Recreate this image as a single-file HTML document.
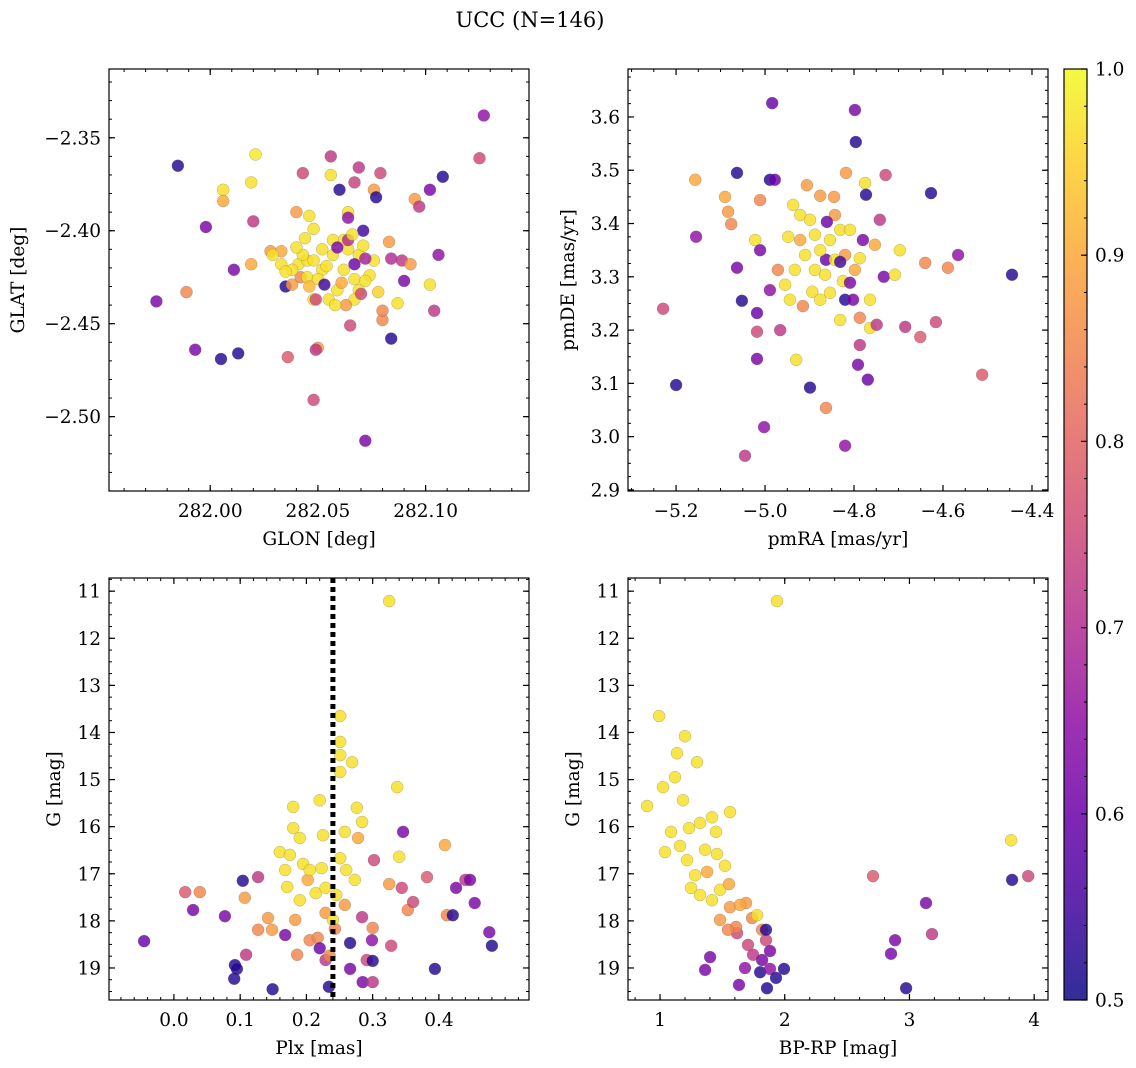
<!DOCTYPE html>
<html><head><meta charset="utf-8">
<style>
html,body{margin:0;padding:0;background:#fff;}
svg{display:block;font-family:"DejaVu Serif","Liberation Serif",serif;}
</style></head>
<body>
<svg id="fig" width="1136" height="1068" viewBox="0 0 1136 1068">
<text x="530" y="27" font-size="21" text-anchor="middle">UCC (N=146)</text>
</svg>
<script>
// ---- Panel 1: GLON / GLAT ----
const glon = [281.985,281.975,281.998,281.993,281.989,282.006,282.006,282.005,282.013,282.011,282.019,282.019,282.021,282.020,282.028,282.033,282.035,282.038,282.036,282.040,282.041,282.042,282.043,282.045,282.048,282.050,282.049,282.048,282.046,282.056,282.060,282.064,282.064,282.056,282.065,282.069,282.067,282.076,282.077,282.079,282.072,282.084,282.080,282.080,282.087,282.089,282.090,282.093,282.095,282.097,282.102,282.108,282.102,282.104,282.106,282.125,282.127,282.084,282.083,282.029,282.033,282.038,282.043,282.048,282.052,282.057,282.062,282.067,282.069,282.059,282.055,282.045,282.050,282.064,282.069,282.076,282.074,282.062,282.067,282.071,282.057,282.052,282.048,282.059,282.064,282.067,282.072,282.053,282.049,282.070,282.063,282.071,282.035,282.040,282.046,282.054,282.061,282.066,282.072,282.078,282.044,282.058];
const glat = [-2.365,-2.438,-2.398,-2.464,-2.433,-2.378,-2.384,-2.469,-2.466,-2.421,-2.418,-2.374,-2.359,-2.395,-2.411,-2.411,-2.430,-2.429,-2.468,-2.390,-2.418,-2.425,-2.369,-2.416,-2.399,-2.463,-2.464,-2.491,-2.392,-2.360,-2.378,-2.390,-2.393,-2.370,-2.451,-2.366,-2.374,-2.378,-2.382,-2.369,-2.513,-2.458,-2.448,-2.443,-2.439,-2.416,-2.427,-2.418,-2.383,-2.387,-2.378,-2.371,-2.429,-2.443,-2.413,-2.361,-2.338,-2.415,-2.406,-2.413,-2.418,-2.421,-2.413,-2.416,-2.421,-2.413,-2.421,-2.426,-2.432,-2.432,-2.437,-2.425,-2.426,-2.410,-2.413,-2.416,-2.424,-2.405,-2.437,-2.408,-2.405,-2.410,-2.437,-2.409,-2.405,-2.418,-2.415,-2.429,-2.437,-2.434,-2.440,-2.400,-2.422,-2.409,-2.430,-2.419,-2.428,-2.402,-2.427,-2.433,-2.404,-2.440];
const prob1 = [0.52,0.62,0.62,0.62,0.85,0.97,0.9,0.52,0.52,0.62,0.9,0.97,0.98,0.72,0.88,0.9,0.52,0.88,0.78,0.88,0.97,0.85,0.75,0.97,0.97,0.88,0.72,0.75,0.97,0.72,0.52,0.97,0.65,0.97,0.75,0.72,0.74,0.88,0.52,0.75,0.62,0.52,0.85,0.85,0.97,0.72,0.62,0.88,0.88,0.72,0.62,0.52,0.97,0.72,0.65,0.75,0.65,0.7,0.88,0.97,0.97,0.97,0.97,0.97,0.97,0.97,0.97,0.97,0.97,0.97,0.97,0.97,0.97,0.97,0.97,0.97,0.97,0.97,0.97,0.97,0.97,0.97,0.97,0.62,0.7,0.6,0.68,0.55,0.75,0.75,0.88,0.55,0.97,0.97,0.92,0.97,0.9,0.97,0.97,0.95,0.97,0.97];

// ---- Panel 2: pmRA / pmDE ----
const pmra = [-5.200,-5.229,-5.157,-5.155,-5.090,-5.083,-5.076,-5.063,-5.063,-5.052,-5.045,-5.018,-5.018,-5.018,-5.022,-5.011,-5.002,-5.011,-4.984,-4.989,-4.978,-4.989,-4.966,-4.955,-4.971,-4.948,-4.937,-4.930,-4.915,-4.906,-4.899,-4.876,-4.863,-4.863,-4.845,-4.820,-4.825,-4.820,-4.809,-4.802,-4.818,-4.796,-4.798,-4.791,-4.787,-4.787,-4.775,-4.773,-4.780,-4.769,-4.764,-4.749,-4.742,-4.733,-4.729,-4.708,-4.697,-4.685,-4.651,-4.640,-4.627,-4.616,-4.589,-4.566,-4.512,-4.445,-4.921,-4.899,-4.888,-4.876,-4.854,-4.831,-4.843,-4.865,-4.888,-4.910,-4.933,-4.944,-4.894,-4.854,-4.809,-4.787,-4.820,-4.843,-4.798,-4.921,-4.764,-4.753,-4.831,-4.876,-4.861,-4.831];
const pmde = [3.097,3.240,3.482,3.375,3.450,3.422,3.399,3.495,3.317,3.255,2.964,3.197,3.146,3.232,3.369,3.350,3.018,3.444,3.626,3.482,3.482,3.275,3.200,3.285,3.313,3.375,3.435,3.144,3.245,3.472,3.092,3.452,3.332,3.054,3.450,2.983,3.292,3.257,3.289,3.257,3.495,3.553,3.613,3.135,3.172,3.223,3.476,3.454,3.369,3.107,3.204,3.210,3.407,3.300,3.491,3.304,3.350,3.206,3.187,3.326,3.457,3.215,3.317,3.341,3.116,3.304,3.416,3.407,3.379,3.350,3.369,3.388,3.332,3.304,3.313,3.341,3.313,3.257,3.272,3.270,3.388,3.335,3.341,3.416,3.313,3.369,3.257,3.360,3.219,3.257,3.403,3.328];
const prob2 = [0.52,0.75,0.9,0.65,0.9,0.88,0.85,0.52,0.62,0.52,0.72,0.75,0.62,0.6,0.97,0.62,0.65,0.85,0.6,0.52,0.6,0.65,0.72,0.97,0.85,0.97,0.97,0.97,0.85,0.88,0.52,0.88,0.6,0.85,0.88,0.65,0.97,0.52,0.62,0.62,0.88,0.52,0.62,0.62,0.72,0.85,0.97,0.52,0.62,0.6,0.97,0.72,0.72,0.62,0.75,0.97,0.97,0.72,0.78,0.85,0.52,0.75,0.85,0.65,0.78,0.52,0.97,0.97,0.97,0.97,0.97,0.97,0.97,0.97,0.97,0.97,0.97,0.97,0.97,0.97,0.97,0.97,0.88,0.88,0.9,0.9,0.97,0.9,0.97,0.97,0.6,0.55];

// ---- Panel 3: Plx / G ----
const plx = [-0.045,0.017,0.039,0.029,0.077,0.092,0.091,0.095,0.104,0.107,0.109,0.127,0.127,0.142,0.149,0.148,0.160,0.175,0.180,0.180,0.190,0.168,0.171,0.183,0.186,0.190,0.195,0.202,0.205,0.214,0.220,0.217,0.220,0.223,0.225,0.229,0.229,0.234,0.235,0.243,0.251,0.251,0.251,0.251,0.258,0.251,0.266,0.273,0.266,0.269,0.278,0.276,0.284,0.284,0.291,0.285,0.300,0.299,0.300,0.300,0.302,0.325,0.325,0.328,0.337,0.340,0.344,0.346,0.353,0.361,0.382,0.394,0.409,0.412,0.421,0.426,0.440,0.447,0.454,0.476,0.480,0.240,0.258,0.245,0.229,0.260,0.205,0.168];
const gmag3 = [18.43,17.39,17.39,17.77,17.90,18.94,19.23,19.02,17.15,17.51,18.72,17.07,18.19,17.94,19.45,18.19,16.54,16.60,15.58,16.03,16.24,18.30,17.28,17.98,18.72,17.56,16.79,17.13,18.41,17.41,15.44,18.36,18.58,16.88,16.18,17.83,18.83,19.40,18.74,18.17,13.65,14.20,14.48,14.84,16.11,16.67,18.47,17.13,19.02,14.63,16.24,15.60,15.90,17.92,18.83,19.30,18.15,18.41,18.85,19.30,16.71,11.21,17.22,18.53,15.16,16.64,17.30,16.11,17.77,17.60,17.07,19.02,16.39,17.88,17.88,17.30,17.13,17.13,17.62,18.24,18.53,17.98,17.66,17.45,17.30,16.92,16.92,16.92];
const prob3 = [0.6,0.78,0.85,0.62,0.62,0.52,0.52,0.52,0.52,0.88,0.72,0.72,0.85,0.88,0.52,0.88,0.97,0.97,0.97,0.97,0.97,0.62,0.97,0.88,0.85,0.97,0.97,0.9,0.85,0.97,0.97,0.85,0.6,0.97,0.97,0.88,0.72,0.52,0.85,0.85,0.97,0.97,0.97,0.97,0.97,0.97,0.52,0.97,0.62,0.97,0.9,0.97,0.97,0.72,0.75,0.62,0.85,0.65,0.52,0.72,0.75,0.97,0.88,0.75,0.97,0.97,0.75,0.62,0.85,0.75,0.78,0.52,0.9,0.85,0.52,0.62,0.72,0.62,0.62,0.62,0.52,0.97,0.88,0.97,0.97,0.97,0.97,0.97];
const plxLine = [0.240];

// ---- Panel 4: BP-RP / G ----
const bprp = [0.896,0.992,1.024,1.040,1.120,1.088,1.136,1.200,1.184,1.232,1.160,1.216,1.248,1.296,1.321,1.361,1.377,1.361,1.401,1.417,1.449,1.457,1.481,1.521,1.553,1.561,1.561,1.617,1.633,1.681,1.689,1.705,1.738,1.746,1.778,1.818,1.818,1.850,1.802,1.858,1.882,1.882,1.930,1.994,1.850,1.609,1.417,1.321,1.281,1.481,1.641,1.545,1.938,2.708,2.885,2.852,2.973,3.133,3.181,3.815,3.823,3.952];
const gmag4 = [15.56,13.65,15.16,16.54,14.95,16.11,14.44,14.08,15.44,16.03,16.41,16.71,17.30,14.63,15.92,16.49,16.96,19.04,18.77,15.80,16.11,16.58,17.34,16.83,17.22,15.69,17.71,18.26,19.36,19.00,17.62,18.51,17.94,18.72,17.88,18.19,18.83,18.41,19.09,19.43,18.64,19.02,19.21,19.02,18.19,18.13,17.56,17.45,17.03,17.98,17.66,18.19,11.21,17.05,18.41,18.70,19.43,17.62,18.28,16.29,17.13,17.05];
const prob4 = [0.97,0.97,0.97,0.97,0.97,0.97,0.97,0.97,0.97,0.97,0.97,0.97,0.97,0.97,0.97,0.97,0.9,0.62,0.62,0.97,0.97,0.97,0.97,0.97,0.9,0.97,0.88,0.75,0.62,0.65,0.88,0.75,0.85,0.72,0.97,0.85,0.62,0.75,0.52,0.52,0.62,0.65,0.52,0.52,0.52,0.85,0.97,0.97,0.97,0.88,0.9,0.85,0.97,0.78,0.62,0.62,0.52,0.62,0.72,0.97,0.52,0.75];

// ---- Tick labels ----
const ticks1x = [282.00,282.05,282.10];
const ticks1y = [-2.35,-2.40,-2.45,-2.50];
const ticks2x = [-5.2,-5.0,-4.8,-4.6,-4.4];
const ticks2y = [2.9,3.0,3.1,3.2,3.3,3.4,3.5,3.6];
const ticks3x = [0.0,0.1,0.2,0.3,0.4];
const ticksG = [11,12,13,14,15,16,17,18,19];
const ticks4x = [1,2,3,4];
const ticksCb = [0.5,0.6,0.7,0.8,0.9,1.0];

const NS = 'http://www.w3.org/2000/svg';
const svg = document.getElementById('fig');
function mk(tag, attrs, parent){ const e=document.createElementNS(NS,tag); for(const k in attrs) e.setAttribute(k,attrs[k]); (parent||svg).appendChild(e); return e; }

const stops=['#0d0887','#41049d','#6a00a8','#8f0da4','#b12a90','#cc4778','#e16462','#f2844b','#fca636','#fcce25','#f0f921'];
function hex(h){return [parseInt(h.substr(1,2),16),parseInt(h.substr(3,2),16),parseInt(h.substr(5,2),16)];}
function plasma(t){t=Math.max(0,Math.min(1,t));const f=t*10,i=Math.min(9,Math.floor(f)),r=f-i;const a=hex(stops[i]),b=hex(stops[i+1]);return 'rgb('+a.map((v,k)=>Math.round(v+(b[k]-v)*r)).join(',')+')';}
function cmap(p){return plasma((p-0.5)/0.5);}

function fmt(v,d){ return v.toFixed(d).replace('-','\u2212'); }
const TF=18.5;

function panel(o){
  const g=mk('g',{});
  
  
  const sx=v=>o.x0+(v-o.xmin)/(o.xmax-o.xmin)*(o.x1-o.x0);
  const sy=o.yinv ? (v=>o.y0+(v-o.ymin)/(o.ymax-o.ymin)*(o.y1-o.y0)) : (v=>o.y1-(v-o.ymin)/(o.ymax-o.ymin)*(o.y1-o.y0));
  const pg=mk('g',{},g);
  
  
  o.xs.forEach((xv,i)=>{
    const c=mk('circle',{cx:sx(xv).toFixed(1),cy:sy(o.ys[i]).toFixed(1),r:6,fill:cmap(o.ps[i]),'fill-opacity':0.82,stroke:'#666','stroke-width':0.4,'stroke-opacity':0.6},pg);
    
    
  });
  if(o.vline){ const l=mk('line',{x1:sx(o.vline[0]),x2:sx(o.vline[0]),y1:o.y0,y2:o.y1,stroke:'#000','stroke-width':5,'stroke-dasharray':'5,4'},g);
    
     }
  const fr=mk('rect',{x:o.x0,y:o.y0,width:o.x1-o.x0,height:o.y1-o.y0,fill:'none',stroke:'#000','stroke-width':1.2},g);
  
  
  for(let v=Math.ceil(o.xmin/o.xminor-1e-9)*o.xminor; v<=o.xmax+1e-9; v+=o.xminor){ const X=sx(v);
    mk('line',{x1:X,x2:X,y1:o.y1,y2:o.y1-3,stroke:'#000','stroke-width':1},g); mk('line',{x1:X,x2:X,y1:o.y0,y2:o.y0+3,stroke:'#000','stroke-width':1},g);}
  for(let v=Math.ceil(o.ymin/o.yminor-1e-9)*o.yminor; v<=o.ymax+1e-9; v+=o.yminor){ const Y=sy(v);
    mk('line',{x1:o.x0,x2:o.x0+3,y1:Y,y2:Y,stroke:'#000','stroke-width':1},g); mk('line',{x1:o.x1,x2:o.x1-3,y1:Y,y2:Y,stroke:'#000','stroke-width':1},g);}
  o.xt.forEach(v=>{const X=sx(v);
    mk('line',{x1:X,x2:X,y1:o.y1,y2:o.y1-6,stroke:'#000','stroke-width':1.2},g); mk('line',{x1:X,x2:X,y1:o.y0,y2:o.y0+6,stroke:'#000','stroke-width':1.2},g);
    const t=mk('text',{x:X,y:o.y1+26,'font-size':TF,'text-anchor':'middle'},g); t.textContent=fmt(v,o.xd);
    
    });
  o.yt.forEach(v=>{const Y=sy(v);
    mk('line',{x1:o.x0,x2:o.x0+6,y1:Y,y2:Y,stroke:'#000','stroke-width':1.2},g); mk('line',{x1:o.x1,x2:o.x1-6,y1:Y,y2:Y,stroke:'#000','stroke-width':1.2},g);
    const t=mk('text',{x:o.x0-8,y:Y+6.5,'font-size':TF,'text-anchor':'end'},g); t.textContent=fmt(v,o.yd);
    
    });
  const xl=mk('text',{x:(o.x0+o.x1)/2,y:o.y1+54,'font-size':TF,'text-anchor':'middle'},g); xl.textContent=o.xlabel;
  
  
  const yl=mk('text',{x:0,y:0,'font-size':TF,'text-anchor':'middle',transform:'translate('+o.ylx+','+((o.y0+o.y1)/2)+') rotate(-90)'},g); yl.textContent=o.ylabel;
  
  
}

panel({name:'position-panel',x0:109,x1:529,y0:69,y1:491,xmin:281.953,xmax:282.148,ymin:-2.540,ymax:-2.313,xs:glon,ys:glat,ps:prob1,xt:ticks1x,yt:ticks1y,xd:2,yd:2,xminor:0.01,yminor:0.01,xlabel:'GLON [deg]',ylabel:'GLAT [deg]',ylx:24});
panel({name:'proper-motion-panel',x0:628,x1:1048,y0:69,y1:491,xmin:-5.308,xmax:-4.364,ymin:2.898,ymax:3.690,xs:pmra,ys:pmde,ps:prob2,xt:ticks2x,yt:ticks2y,xd:1,yd:1,xminor:0.05,yminor:0.025,xlabel:'pmRA [mas/yr]',ylabel:'pmDE [mas/yr]',ylx:574});
panel({name:'parallax-panel',x0:109,x1:529,y0:578,y1:1000,xmin:-0.098,xmax:0.536,ymin:10.72,ymax:19.68,yinv:true,xs:plx,ys:gmag3,ps:prob3,xt:ticks3x,yt:ticksG,xd:1,yd:0,xminor:0.02,yminor:0.25,xlabel:'Plx [mas]',ylabel:'G [mag]',ylx:60,vline:plxLine});
panel({name:'cmd-panel',x0:628,x1:1048,y0:578,y1:1000,xmin:0.743,xmax:4.111,ymin:10.72,ymax:19.68,yinv:true,xs:bprp,ys:gmag4,ps:prob4,xt:ticks4x,yt:ticksG,xd:0,yd:0,xminor:0.2,yminor:0.25,xlabel:'BP-RP [mag]',ylabel:'G [mag]',ylx:579});

(function(){
  const x0=1064,x1=1087,y0=69,y1=1000;
  const defs=mk('defs',{});
  const lg=mk('linearGradient',{id:'cbg',x1:0,y1:1,x2:0,y2:0},defs);
  for(let i=0;i<=20;i++){ mk('stop',{offset:(i/20),'stop-color':plasma(i/20),'stop-opacity':0.85},lg); }
  const r=mk('rect',{x:x0,y:y0,width:x1-x0,height:y1-y0,fill:'url(#cbg)',stroke:'#000','stroke-width':1.2});
  
  
  const sy=v=>y1-(v-0.5)/0.5*(y1-y0);
  for(let v=0.5;v<=1.0001;v+=0.02){ mk('line',{x1:x1,x2:x1-3,y1:sy(v),y2:sy(v),stroke:'#000','stroke-width':1}); }
  ticksCb.forEach(v=>{ const Y=sy(v);
    mk('line',{x1:x1,x2:x1-6,y1:Y,y2:Y,stroke:'#000','stroke-width':1.2});
    const t=mk('text',{x:x1+8,y:Y+6.5,'font-size':TF}); t.textContent=v.toFixed(1);
    
    });
})();
</script>
</body></html>
